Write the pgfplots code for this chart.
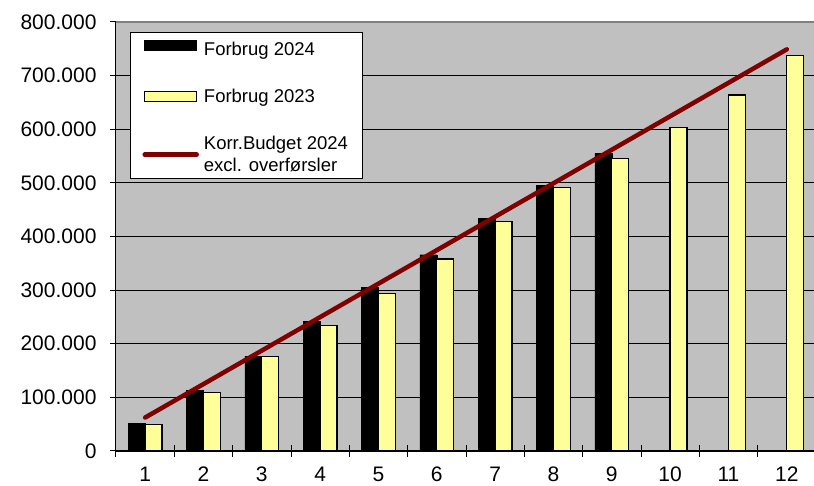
\documentclass[border=0pt]{standalone}
\usepackage{pgfplots}
\pgfplotsset{compat=1.18}
\usepackage{fontspec}
\setmainfont{Liberation Sans}
\definecolor{plotgray}{HTML}{C0C0C0}
\definecolor{barYellow}{HTML}{FFFF99}
\definecolor{budgetRed}{HTML}{800000}
\begin{document}
\begin{tikzpicture}
\useasboundingbox (-116pt,-35pt) rectangle (698pt,451pt);
\begin{axis}[
  scale only axis,
  width=700pt, height=429pt,
  xmin=0.5, xmax=12.5,
  ymin=0, ymax=800000,
  axis x line*=bottom, axis y line*=left,
  axis line style={black, line width=1pt, -},
  axis background/.style={fill=plotgray},
  xtick={1,...,12},
  xticklabels={1,2,3,4,5,6,7,8,9,10,11,12},
  minor xtick={0.5,1.5,...,12.5},
  ytick={0,100000,...,800000},
  yticklabels={0,100.000,200.000,300.000,400.000,500.000,600.000,700.000,800.000},
  scaled y ticks=false,
  tick align=center,
  major tick length=12pt,
  minor tick length=12pt,
  tick style={black, line width=1pt},
  major x tick style={draw=none},
  ymajorgrids,
  grid style={black, line width=0.9pt},
  tick label style={font=\fontsize{21}{25}\selectfont},
  yticklabel style={xshift=-10pt},
  xticklabel style={inner ysep=0pt, text depth=0pt, yshift=-10pt},
  legend style={at={(0.02,0.977)}, anchor=north west, draw=black, line width=0.9pt,
    fill=white, font=\fontsize{18.5}{22}\selectfont, row sep=28pt,
    inner xsep=12pt, inner ysep=0pt,
    cells={anchor=west, align=left}},
]
\addplot[ybar, bar width=17pt, bar shift=-8.5pt, fill=black, draw=black,
  legend image code/.code={\fill[black] (0pt,-5pt) rectangle (52pt,5pt); \path (55pt,0pt);}]
  coordinates {(1,51000)(2,113000)(3,177000)(4,242000)(5,305000)(6,366000)(7,434000)(8,496000)(9,555000)};
\addlegendentry{\rule{0pt}{21.5pt}Forbrug 2024}
\addplot[ybar, bar width=17pt, bar shift=8.3pt, fill=barYellow, draw=black, line width=1.2pt,
  legend image code/.code={\filldraw[fill=barYellow, draw=black, line width=1.2pt] (0pt,-5pt) rectangle (52pt,5pt); \path (55pt,0pt);}]
  coordinates {(1,50000)(2,109000)(3,176000)(4,234000)(5,294000)(6,358000)(7,428000)(8,491000)(9,546000)(10,604000)(11,664000)(12,737000)};
\addlegendentry{Forbrug 2023}
\addplot[budgetRed, line width=4.5pt, line cap=round, mark=none,
  legend image code/.code={\draw[budgetRed, line width=4.5pt, line cap=round] (0pt,0pt) -- (52pt,0pt); \path (0pt,-22pt) (55pt,0pt);}]
  coordinates {(1,62400)(2,124800)(3,187300)(4,249700)(5,312100)(6,374500)(7,436900)(8,499300)(9,561800)(10,624200)(11,686600)(12,749000)};
\addlegendentry{Korr.Budget 2024\hspace{8pt}\\\raisebox{0pt}[\height][-2pt]{excl. overførsler}}
\draw[color=gray, line width=1.3pt] (rel axis cs:0,1) -- (rel axis cs:1,1);
\end{axis}
\end{tikzpicture}
\end{document}
